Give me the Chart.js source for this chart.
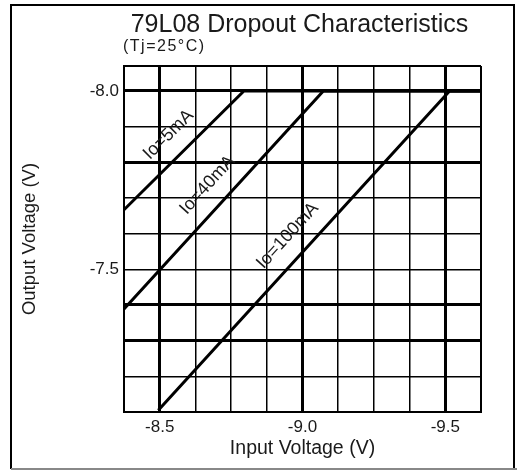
<!DOCTYPE html>
<html>
<head>
<meta charset="utf-8">
<script src="https://cdn.jsdelivr.net/npm/chart.js@4.4.1/dist/chart.umd.min.js"></script>
<style>
  html, body { margin: 0; padding: 0; background: #fff; }
</style>
</head>
<body>
<canvas id="chartDropout" width="517" height="470"></canvas>
<script>
const chartTitle = '79L08 Dropout Characteristics';
const chartSubtitle = '(Tj=25°C)';
const seriesLabels = ['Io=5mA', 'Io=40mA', 'Io=100mA'];

// input voltage (V) / output voltage (V) for each load current
const inputV5 = [-8.375, -8.795, -9.625];
const outputV5 = [-7.667, -8.0, -8.0];
const inputV40 = [-8.375, -9.073, -9.625];
const outputV40 = [-7.389, -8.0, -8.0];
const inputV100 = [-8.495, -9.515, -9.625];
const outputV100 = [-7.105, -8.0, -8.0];

const xGrid = [-8.375, -8.5, -8.625, -8.75, -8.875, -9.0, -9.125, -9.25, -9.375, -9.5, -9.625];
const xTickLabels = [-8.5, -9.0, -9.5];
const xThick = [-8.5, -9.0, -9.5];
const yGrid = [-8.07, -8.0, -7.9, -7.8, -7.7, -7.6, -7.5, -7.4, -7.3, -7.2, -7.1];
const yTickLabels = [-8.0, -7.5];
const yThick = [-8.0, -7.8, -7.4, -7.3];

const FONT = "'Liberation Sans', Arial, sans-serif";
const TEXT = '#1a1a1a';

const has = (list, v) => list.some((x) => Math.abs(x - v) < 1e-6);
const toPoints = (xs, ys) => xs.map((x, i) => ({ x, y: ys[i] }));

const frameAndTitles = {
  id: 'frameAndTitles',
  beforeDraw(chart) {
    const ctx = chart.ctx;
    ctx.save();
    ctx.strokeStyle = '#000';
    ctx.lineWidth = 2;
    ctx.beginPath();
    ctx.moveTo(11, 469);
    ctx.lineTo(11, 5);
    ctx.lineTo(514, 5);
    ctx.lineTo(514, 469);
    ctx.stroke();
    ctx.strokeStyle = '#888';
    ctx.beginPath();
    ctx.moveTo(11, 469);
    ctx.lineTo(517, 469);
    ctx.stroke();
    ctx.restore();
  },
  afterDraw(chart) {
    const ctx = chart.ctx;
    const area = chart.chartArea;
    ctx.save();
    ctx.fillStyle = TEXT;
    ctx.textBaseline = 'alphabetic';
    ctx.textAlign = 'center';
    ctx.font = '25px ' + FONT;
    ctx.fillText(chartTitle, (area.left + area.right) / 2 - 3, 32);
    ctx.textAlign = 'left';
    ctx.font = '16px ' + FONT;
    if ('letterSpacing' in ctx) ctx.letterSpacing = '1.5px';
    ctx.fillText(chartSubtitle, area.left - 1, 51);
    ctx.restore();
  }
};

const curveLabels = {
  id: 'curveLabels',
  afterDatasetsDraw(chart) {
    const ctx = chart.ctx;
    const xs = chart.scales.x;
    const ys = chart.scales.y;
    ctx.save();
    ctx.fillStyle = TEXT;
    ctx.font = '18px ' + FONT;
    ctx.textAlign = 'center';
    ctx.textBaseline = 'middle';
    chart.data.datasets.forEach((ds, i) => {
      const p0 = ds.data[0];
      const p1 = ds.data[1];
      const x0 = xs.getPixelForValue(p0.x), y0 = ys.getPixelForValue(p0.y);
      const x1 = xs.getPixelForValue(p1.x), y1 = ys.getPixelForValue(p1.y);
      const angle = Math.atan2(y1 - y0, x1 - x0);
      const off = 22;
      const cx = (x0 + x1) / 2 + Math.sin(angle) * off;
      const cy = (y0 + y1) / 2 - Math.cos(angle) * off;
      ctx.save();
      ctx.translate(cx, cy);
      ctx.rotate(angle);
      ctx.fillText(seriesLabels[i], 0, 0);
      ctx.restore();
    });
    ctx.restore();
  }
};

const lineStyle = {
  borderColor: '#000',
  borderWidth: 3,
  pointRadius: 0,
  tension: 0,
  fill: false
};

new Chart(document.getElementById('chartDropout'), {
  type: 'line',
  data: {
    datasets: [
      { label: seriesLabels[0], data: toPoints(inputV5, outputV5), ...lineStyle },
      { label: seriesLabels[1], data: toPoints(inputV40, outputV40), ...lineStyle },
      { label: seriesLabels[2], data: toPoints(inputV100, outputV100), ...lineStyle }
    ]
  },
  options: {
    responsive: false,
    animation: false,
    layout: { padding: { top: 66, right: 36, bottom: 0, left: 0 } },
    plugins: {
      legend: { display: false },
      tooltip: { enabled: false }
    },
    scales: {
      x: {
        type: 'linear',
        reverse: true,
        min: -9.625,
        max: -8.375,
        afterFit(scale) { scale.height = 58; },
        afterBuildTicks(scale) { scale.ticks = xGrid.map((v) => ({ value: v })); },
        border: { display: true, color: '#000', width: 2 },
        grid: {
          color: '#000',
          drawTicks: false,
          lineWidth: (c) => (c.tick && has(xThick, c.tick.value) ? 3 : (c.tick && (c.index === 0 || c.index === xGrid.length - 1) ? 2 : 1.5))
        },
        ticks: {
          autoSkip: false,
          maxRotation: 0,
          padding: 5,
          color: TEXT,
          font: { family: FONT, size: 17 },
          callback: (v) => (has(xTickLabels, v) ? Number(v).toFixed(1) : '')
        },
        title: {
          display: true,
          text: 'Input Voltage (V)',
          color: TEXT,
          font: { family: FONT, size: 19.5 },
          padding: { top: 0, bottom: 10 }
        }
      },
      y: {
        type: 'linear',
        reverse: true,
        min: -8.07,
        max: -7.1,
        afterFit(scale) { scale.width = 124; },
        afterBuildTicks(scale) { scale.ticks = yGrid.map((v) => ({ value: v })); },
        border: { display: true, color: '#000', width: 2 },
        grid: {
          color: '#000',
          drawTicks: false,
          lineWidth: (c) => (c.tick && has(yThick, c.tick.value) ? 3 : (c.tick && (c.index === 0 || c.index === yGrid.length - 1) ? 2 : 1.5))
        },
        ticks: {
          autoSkip: false,
          padding: 5,
          color: TEXT,
          font: { family: FONT, size: 17 },
          callback: (v) => (has(yTickLabels, v) ? Number(v).toFixed(1) : '')
        },
        title: {
          display: true,
          text: 'Output Voltage (V)',
          color: TEXT,
          font: { family: FONT, size: 18.5 },
          padding: { top: 19, bottom: 0 }
        }
      }
    }
  },
  plugins: [frameAndTitles, curveLabels]
});
</script>
</body>
</html>
